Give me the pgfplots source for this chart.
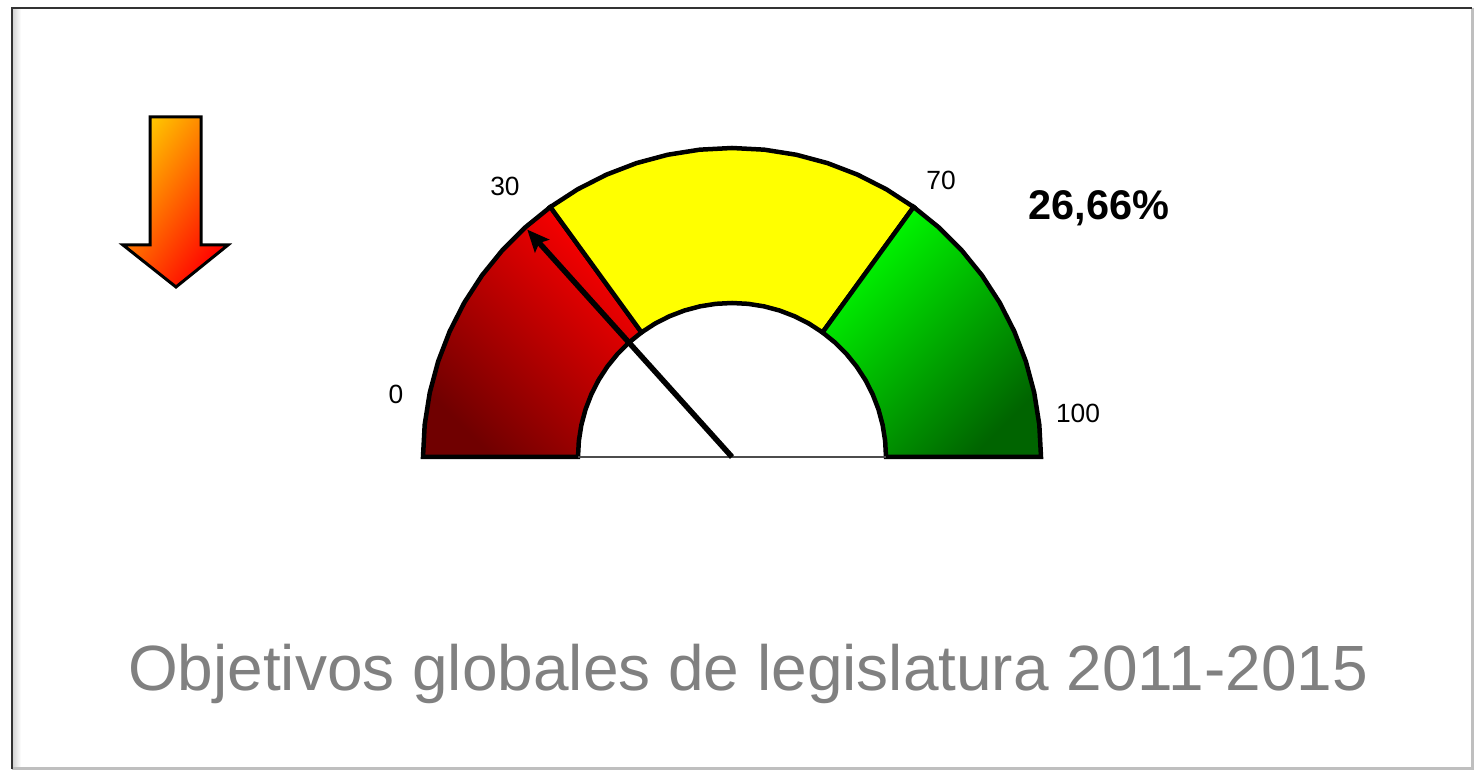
\documentclass[border=0pt]{standalone}
\usepackage{fontspec}
\setmainfont{Liberation Sans}
\usepackage{pgfplots}
\pgfplotsset{compat=1.18}
\usepgfplotslibrary{polar}
\usetikzlibrary{arrows.meta}
\definecolor{rdark}{RGB}{112,0,0}
\definecolor{rmid}{RGB}{220,0,0}
\definecolor{rbright}{RGB}{255,0,0}
\definecolor{gbright}{RGB}{0,255,0}
\definecolor{gmid}{RGB}{0,208,0}
\definecolor{gdark}{RGB}{0,100,0}
\definecolor{ylw}{RGB}{255,255,0}
\definecolor{atop}{RGB}{255,196,0}
\definecolor{amid}{RGB}{255,50,0}
\definecolor{titlegray}{RGB}{128,128,128}
\begin{document}
\begin{tikzpicture}
\begin{axis}[scale only axis, width=14.76cm, height=7.76cm,
  xmin=-732, xmax=744, ymin=-319, ymax=457, hide axis, clip=false, no markers]
% background
\addplot[fill=white, draw=none] coordinates {(-732,-319) (744,-319) (744,457) (-732,457)} -- cycle;
% frame shadow inside left
\addplot[draw=none, left color=black!18, right color=white] coordinates {(-720,-312) (-711,-312) (-711,449) (-720,449)} -- cycle;
% frame
\addplot[draw=black!25, line width=0.3mm] coordinates {(740,449) (740,-312) (-720,-312)};
\addplot[draw=black!80, line width=0.22mm] coordinates {(-720,-312) (-720,449) (740,449)};
% down arrow
\addplot[draw=black, line width=0.3mm, top color=atop, middle color=amid, bottom color=red, shading angle=55]
  coordinates {(-582,340) (-531,340) (-531,212) (-504,212) (-556,170) (-609,212) (-582,212)} -- cycle;
% red sector 0-30
\addplot[data cs=polar, draw=black, line width=0.45mm, top color=rbright, middle color=rmid, bottom color=rdark, shading angle=-45]
  coordinates {(180,309) (174,309) (168,309) (162,309) (156,309) (150,309) (144,309) (138,309) (132,309) (126,309)
               (126,154) (132,154) (138,154) (144,154) (150,154) (156,154) (162,154) (168,154) (174,154) (180,154)} -- cycle;
% yellow sector 30-70
\addplot[data cs=polar, draw=black, line width=0.45mm, fill=ylw]
  coordinates {(126,309) (120,309) (114,309) (108,309) (102,309) (96,309) (90,309) (84,309) (78,309) (72,309) (66,309) (60,309) (54,309)
               (54,154) (60,154) (66,154) (72,154) (78,154) (84,154) (90,154) (96,154) (102,154) (108,154) (114,154) (120,154) (126,154)} -- cycle;
% green sector 70-100
\addplot[data cs=polar, draw=black, line width=0.45mm, top color=gbright, middle color=gmid, bottom color=gdark, shading angle=45]
  coordinates {(54,309) (48,309) (42,309) (36,309) (30,309) (24,309) (18,309) (12,309) (6,309) (0,309)
               (0,154) (6,154) (12,154) (18,154) (24,154) (30,154) (36,154) (42,154) (48,154) (54,154)} -- cycle;
% base line
\addplot[draw=black!70, line width=0.16mm] coordinates {(-154,0) (154,0)};
% needle at 26.66 -> angle 180-1.8*26.66 = 132
\addplot[data cs=polar, draw=black, line width=0.55mm, -{Stealth[length=2.2mm, width=1.9mm, inset=0.4mm]}]
  coordinates {(0,0) (132,306)};
% labels
\node[font=\fontsize{7.5}{9}\selectfont] at (axis cs:-336,63) {0};
\node[font=\fontsize{7.5}{9}\selectfont] at (axis cs:-227,271) {30};
\node[font=\fontsize{7.5}{9}\selectfont] at (axis cs:209,277) {70};
\node[font=\fontsize{7.5}{9}\selectfont] at (axis cs:346,44) {100};
\node[font=\fontsize{11.8}{14}\selectfont\bfseries, anchor=base] at (axis cs:367,237) {26,66\%};
\node[font=\fontsize{18.2}{22}\selectfont, text=titlegray, anchor=base] at (axis cs:16,-234) {Objetivos globales de legislatura 2011-2015};
\end{axis}
\end{tikzpicture}
\end{document}
